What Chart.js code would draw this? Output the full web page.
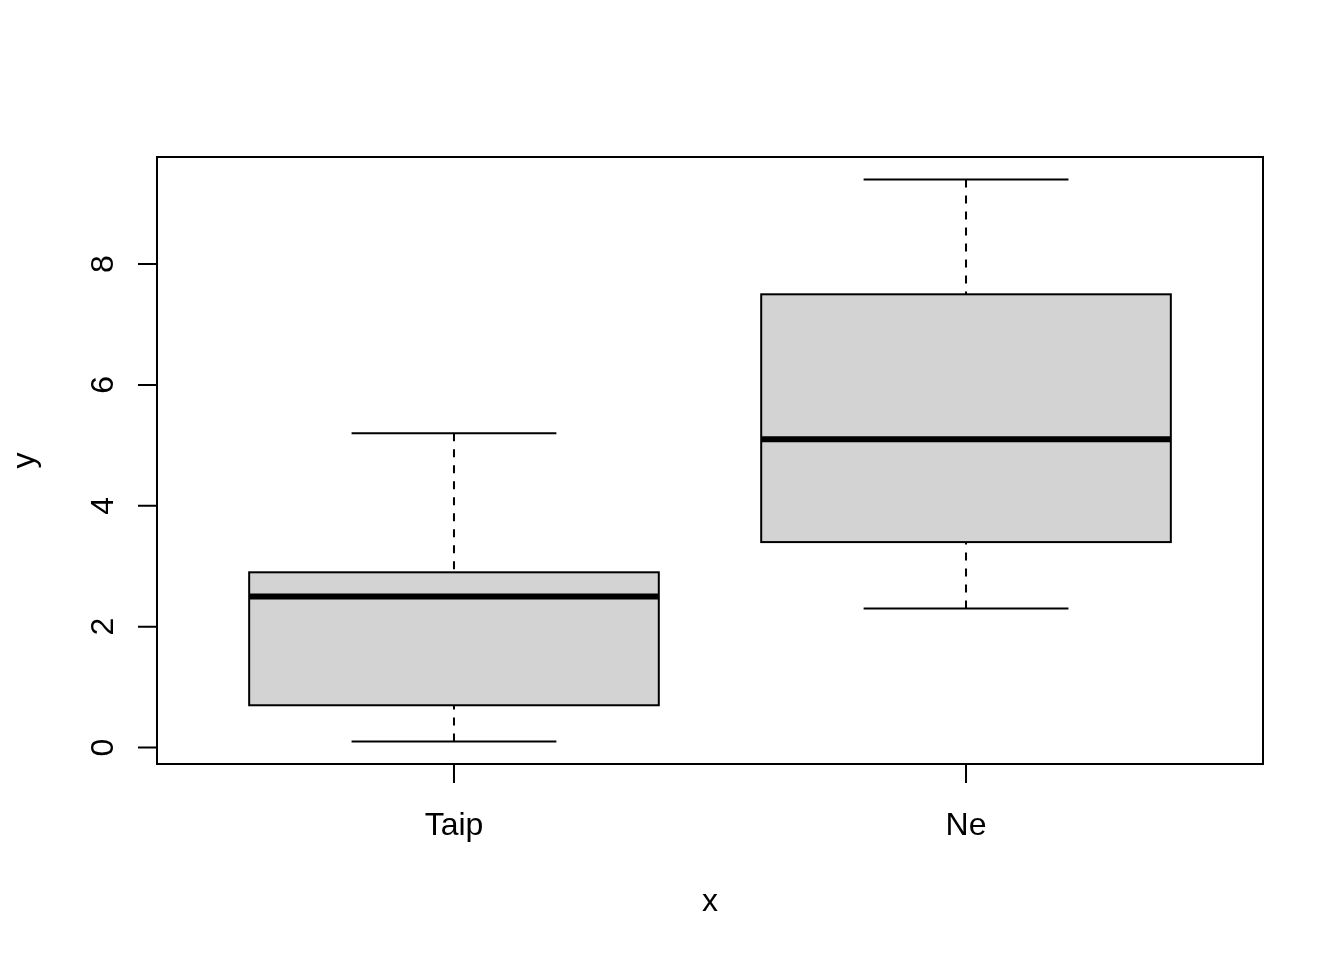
<!DOCTYPE html>
<html>
<head>
<meta charset="utf-8">
<script src="https://cdn.jsdelivr.net/npm/chart.js@4.4.1/dist/chart.umd.min.js"></script>
<style>
  html, body { margin: 0; padding: 0; background: #fff; }
  #wrap { width: 1344px; height: 960px; }
</style>
</head>
<body>
<div id="wrap"><canvas id="boxChart" width="1344" height="960"></canvas></div>
<script>
// box plot data
const categories = ["Taip", "Ne"];
const whiskerLow = [0.1, 2.3];
const q1 = [0.7, 3.4];
const median = [2.5, 5.1];
const q3 = [2.9, 7.5];
const whiskerHigh = [5.2, 9.4];
const yTicks = [0, 2, 4, 6, 8];

const FONT = '32px "Liberation Sans", Arial, sans-serif';

// draws the R-style boxes, frame and axes from the chart scales
const boxPlotPlugin = {
  id: "boxPlot",
  afterDraw(chart) {
    const ctx = chart.ctx;
    const xs = chart.scales.x;
    const ys = chart.scales.y;
    const area = chart.chartArea;

    ctx.save();
    ctx.lineWidth = 2;
    ctx.strokeStyle = "#000";

    categories.forEach((name, i) => {
      const pos = i + 1;
      const cx = xs.getPixelForValue(pos);
      const bx0 = xs.getPixelForValue(pos - 0.4);
      const bx1 = xs.getPixelForValue(pos + 0.4);
      const cx0 = xs.getPixelForValue(pos - 0.2);
      const cx1 = xs.getPixelForValue(pos + 0.2);
      const yLo = ys.getPixelForValue(whiskerLow[i]);
      const yQ1 = ys.getPixelForValue(q1[i]);
      const yMed = ys.getPixelForValue(median[i]);
      const yQ3 = ys.getPixelForValue(q3[i]);
      const yHi = ys.getPixelForValue(whiskerHigh[i]);

      // dashed whiskers
      ctx.setLineDash([8, 8]);
      ctx.beginPath();
      ctx.moveTo(cx, yLo); ctx.lineTo(cx, yQ1);
      ctx.moveTo(cx, yHi); ctx.lineTo(cx, yQ3);
      ctx.stroke();
      ctx.setLineDash([]);

      // caps
      ctx.beginPath();
      ctx.moveTo(cx0, yLo); ctx.lineTo(cx1, yLo);
      ctx.moveTo(cx0, yHi); ctx.lineTo(cx1, yHi);
      ctx.stroke();

      // box
      ctx.fillStyle = "#d3d3d3";
      ctx.fillRect(bx0, yQ3, bx1 - bx0, yQ1 - yQ3);
      ctx.strokeRect(bx0, yQ3, bx1 - bx0, yQ1 - yQ3);

      // median
      ctx.lineWidth = 6;
      ctx.lineCap = "butt";
      ctx.beginPath();
      ctx.moveTo(bx0, yMed); ctx.lineTo(bx1, yMed);
      ctx.stroke();
      ctx.lineWidth = 2;
    });

    // frame
    ctx.strokeRect(area.left, area.top, area.right - area.left, area.bottom - area.top);

    ctx.fillStyle = "#000";
    ctx.font = FONT;

    // x axis ticks and labels
    ctx.textAlign = "center";
    ctx.textBaseline = "alphabetic";
    ctx.beginPath();
    categories.forEach((name, i) => {
      const px = xs.getPixelForValue(i + 1);
      ctx.moveTo(px, area.bottom);
      ctx.lineTo(px, area.bottom + 19);
    });
    ctx.stroke();
    categories.forEach((name, i) => {
      ctx.fillText(name, xs.getPixelForValue(i + 1), 835);
    });

    // y axis ticks and rotated labels
    ctx.beginPath();
    yTicks.forEach(v => {
      const py = ys.getPixelForValue(v);
      ctx.moveTo(area.left, py);
      ctx.lineTo(area.left - 19, py);
    });
    ctx.stroke();
    yTicks.forEach(v => {
      const py = ys.getPixelForValue(v);
      ctx.save();
      ctx.translate(113, py);
      ctx.rotate(-Math.PI / 2);
      ctx.fillText(String(v), 0, 0);
      ctx.restore();
    });

    // axis titles
    ctx.fillText("x", (area.left + area.right) / 2, 911);
    ctx.save();
    ctx.translate(34, (area.top + area.bottom) / 2);
    ctx.rotate(-Math.PI / 2);
    ctx.fillText("y", 0, 0);
    ctx.restore();

    ctx.restore();
  }
};

new Chart(document.getElementById("boxChart"), {
  type: "scatter",
  data: { datasets: [{ data: [], pointRadius: 0 }] },
  options: {
    responsive: false,
    animation: false,
    devicePixelRatio: 1,
    layout: { padding: { left: 157, top: 157, right: 81, bottom: 196 } },
    plugins: { legend: { display: false }, tooltip: { enabled: false } },
    scales: {
      x: { type: "linear", min: 0.42, max: 2.58, display: false },
      y: { type: "linear", min: -0.272, max: 9.772, display: false }
    }
  },
  plugins: [boxPlotPlugin]
});
</script>
</body>
</html>
